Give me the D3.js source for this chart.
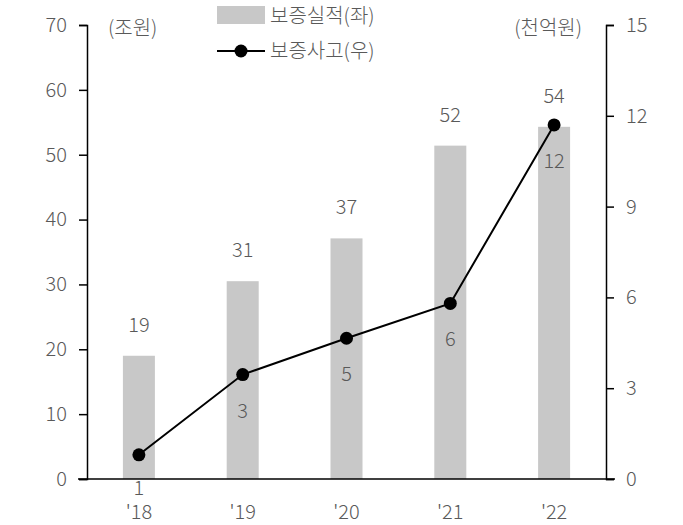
<!DOCTYPE html><html><head><meta charset="utf-8"><script src="https://cdn.jsdelivr.net/npm/d3@7"></script>
<style>body{margin:0;background:#fff}text{font-family:"Noto Sans CJK KR","Noto Sans",sans-serif;font-weight:300;fill:#595959}</style></head><body><svg id="c" width="683" height="525"></svg><script>
const categories=["'18","'19","'20","'21","'22"];
const guarantee=[19,30.5,37.1,51.4,54.3];
const guaranteeLabels=["19","31","37","52","54"];
const accidents=[0.8,3.45,4.65,5.8,11.7];
const accidentLabels=["1","3","5","6","12"];
const leftTicks=[0,10,20,30,40,50,60,70];
const rightTicks=[0,3,6,9,12,15];
const svg=d3.select("#c");
const x=d3.scalePoint().domain(categories).range([87,606]).padding(0.5);
const bw=32;
const yL=d3.scaleLinear().domain([0,70]).range([479,25]);
const yR=d3.scaleLinear().domain([0,15]).range([479,25]);
const fs="20px";
svg.selectAll("rect.b").data(guarantee).join("rect").attr("x",(d,i)=>x(categories[i])-bw/2).attr("width",bw).attr("y",d=>yL(d)).attr("height",d=>479-yL(d)).attr("fill","#c8c8c8");
const gl=svg.append("g").attr("transform","translate(87,0)").call(d3.axisLeft(yL).tickValues(leftTicks).tickSize(8).tickPadding(12));
const gr=svg.append("g").attr("transform","translate(606,0)").call(d3.axisRight(yR).tickValues(rightTicks).tickSize(8).tickPadding(12));
[gl,gr].forEach(g=>{g.selectAll("path,line").attr("stroke","#000").attr("stroke-width",1.5);g.selectAll("text").style("font-size",fs).attr("fill","#595959");});
svg.append("line").attr("x1",78).attr("x2",615).attr("y1",479).attr("y2",479).attr("stroke","#000").attr("stroke-width",1.5);
svg.selectAll("text.xl").data(categories).join("text").attr("x",d=>x(d)).attr("y",519).attr("text-anchor","middle").style("font-size",fs).text(d=>d);
svg.selectAll("text.bl").data(guarantee).join("text").attr("x",(d,i)=>x(categories[i])).attr("y",d=>yL(d)-24).attr("text-anchor","middle").style("font-size",fs).text((d,i)=>guaranteeLabels[i]);
const cx=(d,i)=>x(categories[i]);
svg.append("path").datum(accidents).attr("d",d3.line().x(cx).y(d=>yR(d))).attr("fill","none").attr("stroke","#000").attr("stroke-width",2);
svg.selectAll("circle.p").data(accidents).join("circle").attr("cx",cx).attr("cy",d=>yR(d)).attr("r",6.5).attr("fill","#000");
svg.selectAll("text.pl").data(accidents).join("text").attr("x",cx).attr("y",(d,i)=>yR(d)+(i===0?40:43)).attr("text-anchor","middle").style("font-size",fs).text((d,i)=>accidentLabels[i]);
svg.append("text").attr("x",108).attr("y",35).style("font-size",fs).text("(조원)");
svg.append("text").attr("x",582).attr("y",35).attr("text-anchor","end").style("font-size",fs).text("(천억원)");
svg.append("rect").attr("x",217).attr("y",6).attr("width",48).attr("height",18).attr("fill","#c8c8c8");
svg.append("text").attr("x",270).attr("y",23).style("font-size",fs).text("보증실적(좌)");
svg.append("line").attr("x1",217).attr("x2",265).attr("y1",51).attr("y2",51).attr("stroke","#000").attr("stroke-width",2);
svg.append("circle").attr("cx",241).attr("cy",51).attr("r",6.5).attr("fill","#000");
svg.append("text").attr("x",270).attr("y",58).style("font-size",fs).text("보증사고(우)");
</script></body></html>
